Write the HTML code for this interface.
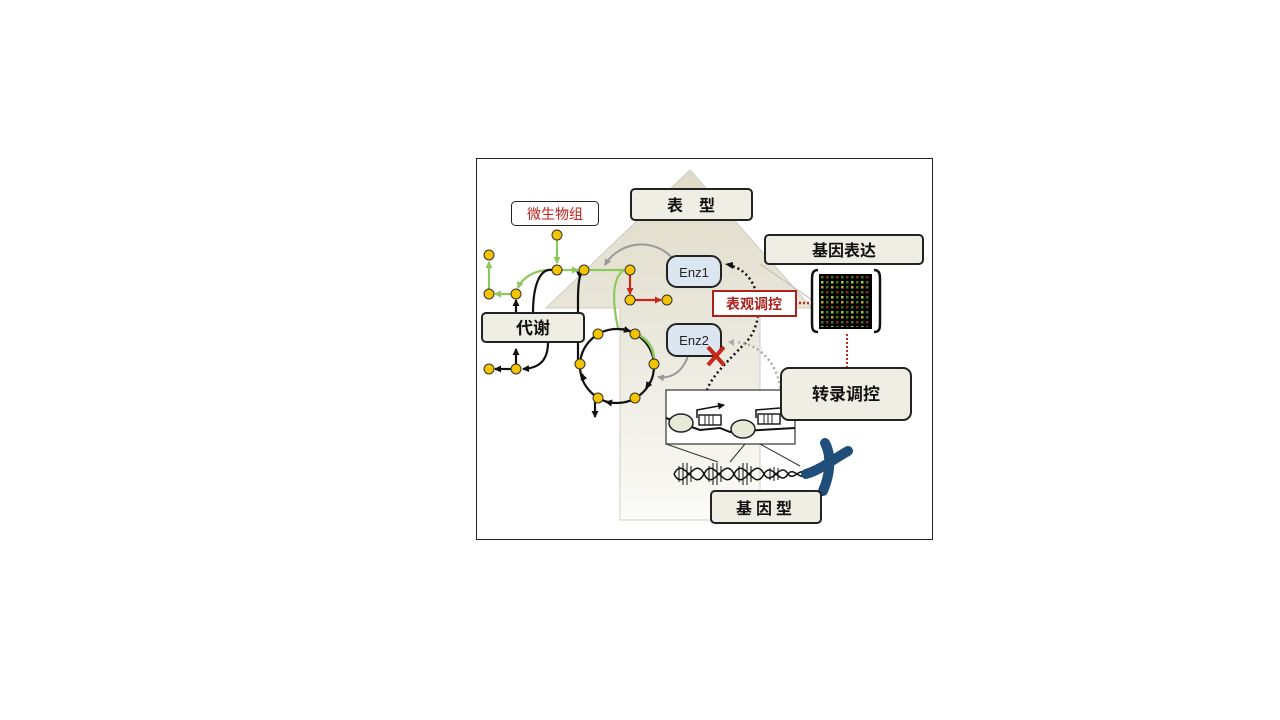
<!DOCTYPE html>
<html><head><meta charset="utf-8"><style>
html,body{margin:0;padding:0;background:#fff;width:1280px;height:720px;overflow:hidden}
svg{position:absolute;left:0;top:0}
text{font-family:"Liberation Sans","Noto Sans CJK SC",sans-serif}
</style></head><body>
<svg width="1280" height="720" viewBox="0 0 1280 720">
<defs>
<linearGradient id="ag" x1="0" y1="0" x2="0" y2="1">
<stop offset="0" stop-color="#dedbc8"/><stop offset="0.5" stop-color="#ebe9de"/><stop offset="1" stop-color="#fbfbf8"/></linearGradient>
<pattern id="pg" width="5" height="5" patternUnits="userSpaceOnUse"><rect x="1" y="1" width="2.5" height="2.5" fill="#3a7a22"/></pattern>
<pattern id="pr" width="10" height="15" patternUnits="userSpaceOnUse"><rect x="1" y="1" width="2.5" height="2.5" fill="#c8a020"/><rect x="6" y="6" width="2.5" height="2.5" fill="#8a2a1a"/><rect x="1" y="11" width="2.5" height="2.5" fill="#9ad040"/></pattern>
<marker id="ak" markerUnits="userSpaceOnUse" markerWidth="7" markerHeight="7" refX="6" refY="3.5" orient="auto"><path d="M0,0L7,3.5L0,7z" fill="#111"/></marker>
<marker id="ag2" markerUnits="userSpaceOnUse" markerWidth="7" markerHeight="7" refX="6" refY="3.5" orient="auto"><path d="M0,0L7,3.5L0,7z" fill="#8cc85a"/></marker>
<marker id="ar" markerUnits="userSpaceOnUse" markerWidth="7" markerHeight="7" refX="6" refY="3.5" orient="auto"><path d="M0,0L7,3.5L0,7z" fill="#c8281a"/></marker>
<marker id="agr" markerUnits="userSpaceOnUse" markerWidth="7" markerHeight="7" refX="6" refY="3.5" orient="auto"><path d="M0,0L7,3.5L0,7z" fill="#999"/></marker>
</defs>
<rect x="476.5" y="158.5" width="456" height="381" fill="#fff" stroke="#222" stroke-width="1"/>
<path d="M690,170 L812,308 L760,308 L760,520 L620,520 L620,308 L546,308 Z" fill="url(#ag)" stroke="#cfccbf" stroke-width="1"/>
<rect x="631" y="189" width="121" height="31" rx="4" fill="#efeee4" stroke="#222" stroke-width="2"/>
<text x="691" y="211" font-size="16" font-weight="bold" text-anchor="middle" fill="#111">表　型</text>
<rect x="765" y="235" width="158" height="29" rx="4" fill="#efeee4" stroke="#222" stroke-width="2"/>
<text x="844" y="256" font-size="16" font-weight="bold" text-anchor="middle" fill="#111">基因表达</text>
<path d="M760,264 L812,300" stroke="#bbb" stroke-width="1"/>
<path d="M672,258 C655,238 620,240 605,265" fill="none" stroke="#999" stroke-width="2" marker-end="url(#agr)"/>
<path d="M688,356 C680,378 665,378 658,377" fill="none" stroke="#999" stroke-width="2" marker-end="url(#agr)"/>
<g fill="none" stroke-width="2.2">
<path d="M557,240 L557,263" stroke="#8cc85a" marker-end="url(#ag2)"/>
<path d="M562,270 L578,270" stroke="#8cc85a" marker-end="url(#ag2)"/>
<path d="M589,270 L624,270" stroke="#8cc85a"/>
<path d="M552,270 C535,269 522,278 518,288" stroke="#8cc85a" marker-end="url(#ag2)"/>
<path d="M511,294 L495,294" stroke="#8cc85a" marker-end="url(#ag2)"/>
<path d="M489,289 L489,262" stroke="#8cc85a" marker-end="url(#ag2)"/>
<path d="M624,270 C612,278 612,300 618,328" stroke="#8cc85a"/>
<path d="M630,275 L630,294" stroke="#c8281a" marker-end="url(#ar)"/>
<path d="M635,300 L661,300" stroke="#c8281a" marker-end="url(#ar)"/>
<path d="M516,313 L516,300" stroke="#111" marker-end="url(#ak)"/>
<path d="M533,313 C533,285 540,268 552,270" stroke="#111"/>
<path d="M578,362 L578,300 C578,285 579,274 583,272" stroke="#111" marker-end="url(#ak)"/>
<path d="M516,364 L516,349" stroke="#111" marker-end="url(#ak)"/>
<path d="M511,369 L495,369" stroke="#111" marker-end="url(#ak)"/>
<path d="M548,342 C548,360 540,368 523,369" stroke="#111" marker-end="url(#ak)"/>
<circle cx="617" cy="366" r="37" stroke="#111"/>
<path d="M639,335 C648,340 653,348 654,358" stroke="#8cc85a" stroke-width="2.6"/>
<path d="M622,329 L630,331" stroke="#111" marker-end="url(#ak)"/>
<path d="M650,382 L646,388" stroke="#111" marker-end="url(#ak)"/>
<path d="M584,380 L582,374" stroke="#111" marker-end="url(#ak)"/>
<path d="M612,403 L606,402" stroke="#111" marker-end="url(#ak)"/>
<path d="M595,402 L595,417" stroke="#111" marker-end="url(#ak)"/>
</g>
<g fill="#f5c400" stroke="#333" stroke-width="1">
<circle cx="489" cy="255" r="5"/><circle cx="557" cy="235" r="5"/><circle cx="489" cy="294" r="5"/><circle cx="516" cy="294" r="5"/><circle cx="557" cy="270" r="5"/><circle cx="584" cy="270" r="5"/><circle cx="630" cy="270" r="5"/><circle cx="630" cy="300" r="5"/><circle cx="667" cy="300" r="5"/><circle cx="516" cy="369" r="5"/><circle cx="489" cy="369" r="5"/><circle cx="598" cy="334" r="5"/><circle cx="635" cy="334" r="5"/><circle cx="654" cy="364" r="5"/><circle cx="580" cy="364" r="5"/><circle cx="598" cy="398" r="5"/><circle cx="635" cy="398" r="5"/>
</g>
<rect x="482" y="313" width="102" height="29" rx="4" fill="#efeee4" stroke="#222" stroke-width="2"/>
<text x="533" y="334" font-size="17" font-weight="bold" text-anchor="middle" fill="#111">代谢</text>
<rect x="511.5" y="201.5" width="87" height="24" rx="4" fill="#fff" stroke="#222" stroke-width="1"/>
<text x="555" y="219" font-size="14" text-anchor="middle" fill="#c0201a">微生物组</text>
<rect x="667" y="256" width="54" height="31" rx="10" fill="#dce6f0" stroke="#222" stroke-width="2"/>
<text x="694" y="277" font-size="13" text-anchor="middle" fill="#222">Enz1</text>
<rect x="667" y="324" width="54" height="32" rx="10" fill="#dce6f0" stroke="#222" stroke-width="2"/>
<text x="694" y="345" font-size="13" text-anchor="middle" fill="#222">Enz2</text>
<path d="M706,410 C700,385 720,370 748,340 C765,320 762,275 732,266" fill="none" stroke="#111" stroke-width="2.5" stroke-dasharray="2,3"/>
<path d="M733,269 L725,264 L733,262z" fill="#111"/>
<path d="M780,408 C785,380 770,345 736,342" fill="none" stroke="#aaa" stroke-width="2.5" stroke-dasharray="2,3"/>
<path d="M734,339 L728,342 L734,346z" fill="#aaa"/>
<path d="M708,347 L724,365 M724,347 L708,365" stroke="#c8281a" stroke-width="4"/>
<rect x="713" y="291" width="83" height="25" fill="#fff" stroke="#b0201a" stroke-width="2"/>
<text x="754" y="309" font-size="14" font-weight="bold" text-anchor="middle" fill="#b0201a">表观调控</text>
<path d="M799,303 L812,303" stroke="#c8281a" stroke-width="2.5" stroke-dasharray="2,2"/>
<rect x="819" y="274" width="53" height="55" fill="#000"/>
<rect x="821" y="276" width="49" height="51" fill="url(#pg)"/>
<rect x="821" y="276" width="49" height="51" fill="url(#pr)"/>
<path d="M818,270 C812,270 812,275 812,280 L812,322 C812,328 812,332 818,332" fill="none" stroke="#111" stroke-width="2.5"/>
<path d="M874,270 C880,270 880,275 880,280 L880,322 C880,328 880,332 874,332" fill="none" stroke="#111" stroke-width="2.5"/>
<path d="M847,334 L847,368" stroke="#c8281a" stroke-width="2" stroke-dasharray="2,2"/>
<rect x="666" y="390" width="129" height="54" fill="#fff" stroke="#333" stroke-width="1.2"/>
<path d="M666,418 L700,430 L720,428 L730,432 L760,430 L795,428" fill="none" stroke="#111" stroke-width="2"/>
<ellipse cx="681" cy="423" rx="12" ry="9" fill="#e8ead8" stroke="#222" stroke-width="1.5"/>
<ellipse cx="743" cy="429" rx="12" ry="9" fill="#e8ead8" stroke="#222" stroke-width="1.5"/>
<rect x="699" y="415" width="22" height="10" fill="#fff" stroke="#222" stroke-width="1.5"/>
<path d="M705,415v10M709,415v10M713,415v10" stroke="#222"/>
<rect x="758" y="414" width="22" height="10" fill="#fff" stroke="#222" stroke-width="1.5"/>
<path d="M764,414v10M768,414v10M772,414v10" stroke="#222"/>
<path d="M697,418 L697,410 L724,405" fill="none" stroke="#111" stroke-width="1.5" marker-end="url(#ak)"/>
<path d="M756,418 L756,410 L780,408" fill="none" stroke="#111" stroke-width="1.5"/>
<path d="M666,444 L718,462 M730,462 L745,444 M760,444 L800,466" stroke="#333" stroke-width="1"/>
<g fill="none" stroke="#111" stroke-width="1.5">
<path d="M674,474 C684,454 694,494 704,474 C714,454 724,494 734,474 C744,454 754,494 764,474 C772,460 780,488 788,474 C794,466 800,482 806,474"/>
<path d="M674,474 C684,494 694,454 704,474 C714,494 724,454 734,474 C744,494 754,454 764,474 C772,488 780,460 788,474 C794,482 800,466 806,474"/>
<path d="M679,466v16M683,463v22M687,463v22M691,466v16M709,466v16M713,463v22M717,463v22M721,466v16M739,466v16M743,463v22M747,463v22M751,466v16M770,468v12M774,467v14M778,468v12" stroke-width="1"/>
</g>
<g stroke="#1f4e7a" stroke-width="10" stroke-linecap="round" fill="none">
<path d="M806,474 C820,470 832,460 848,451"/>
<path d="M825,443 C832,456 830,475 823,491"/>
</g>
<rect x="781" y="368" width="130" height="52" rx="8" fill="#efeee4" stroke="#222" stroke-width="2"/>
<text x="846" y="400" font-size="17" font-weight="bold" text-anchor="middle" fill="#111">转录调控</text>
<rect x="711" y="491" width="110" height="32" rx="4" fill="#efeee4" stroke="#222" stroke-width="2"/>
<text x="766" y="514" font-size="16" font-weight="bold" text-anchor="middle" fill="#111" letter-spacing="4">基因型</text>
</svg>
</body></html>
